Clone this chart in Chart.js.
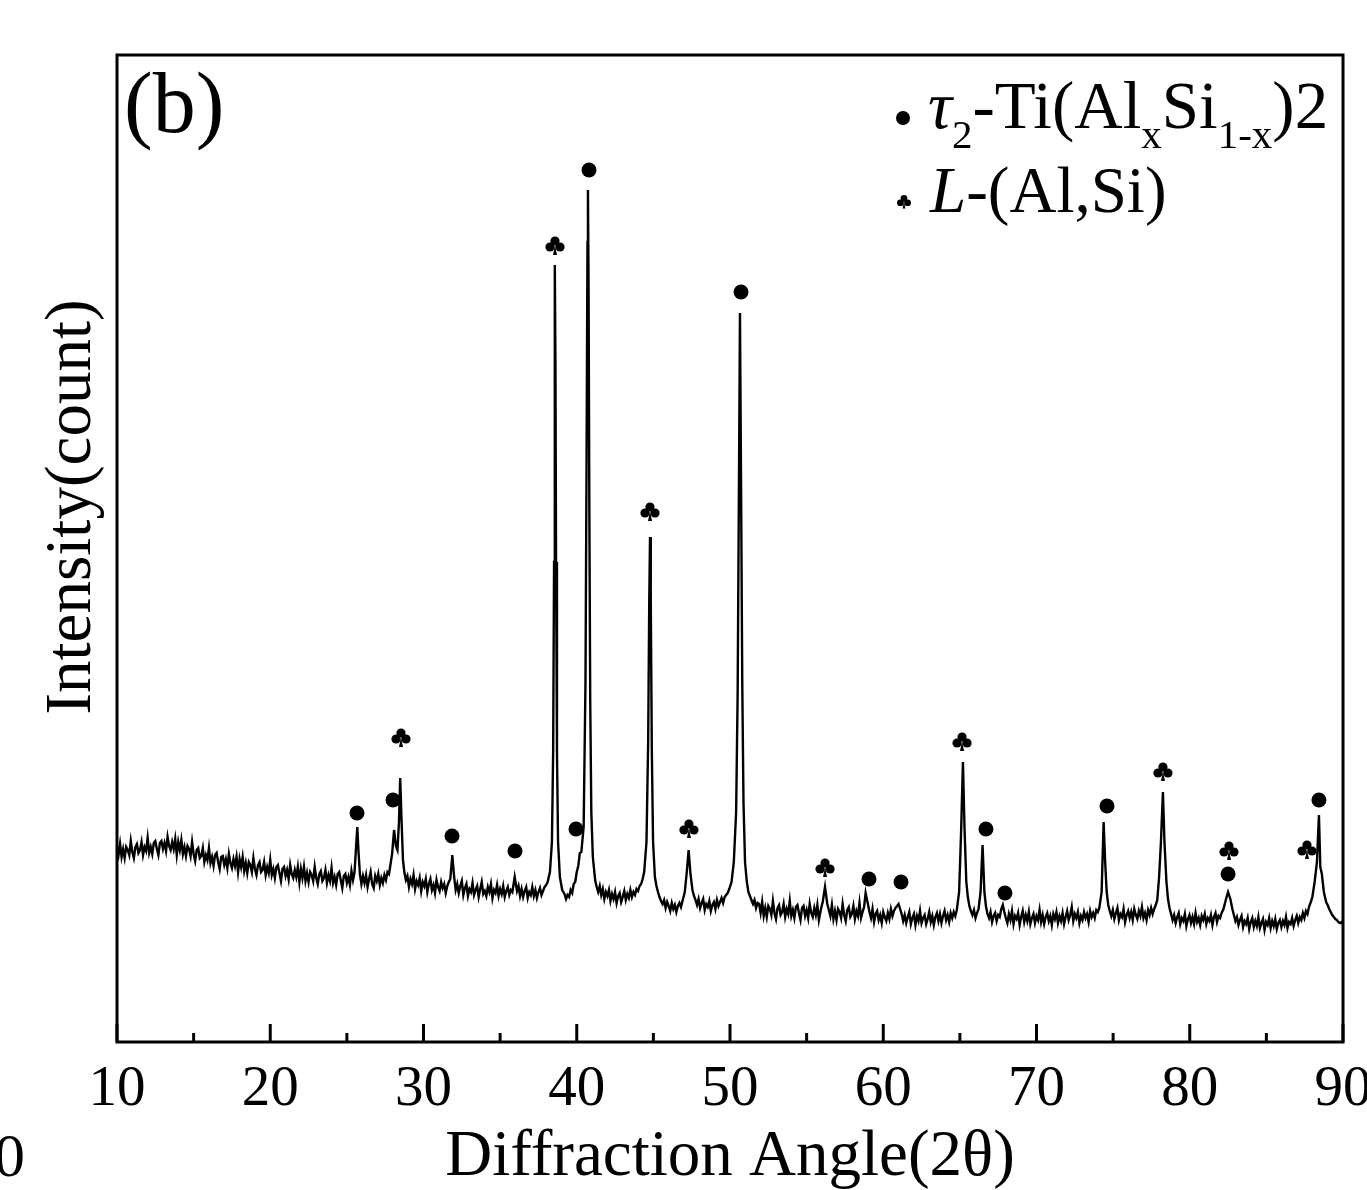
<!DOCTYPE html>
<html><head><meta charset="utf-8">
<script src="https://cdn.jsdelivr.net/npm/chart.js@4.4.1/dist/chart.umd.min.js"></script>
<style>html,body{margin:0;padding:0;background:#fff;}canvas{display:block;}</style>
</head><body>
<canvas id="c" width="1367" height="1190"></canvas>
<script>
// ---------- data ----------
const xTicks = [10, 20, 30, 40, 50, 60, 70, 80, 90];
const xMinorTicks = [15, 25, 35, 45, 55, 65, 75, 85];
const xTitle = 'Diffraction Angle(2θ)';
const yTitle = 'Intensity(count)';
const panelLabel = '(b)';
// [2θ, intensity]
const pattern = [
[10.0,195],[10.1,187],[10.2,198],[10.3,185],[10.4,193],[10.5,184],[10.6,195],[10.7,192],[10.8,187],[10.9,201],
[11.0,190],[11.1,184],[11.2,195],[11.3,198],[11.4,189],[11.5,192],[11.6,200],[11.7,187],[11.8,195],[11.9,191],
[12.0,204],[12.1,189],[12.2,195],[12.3,188],[12.4,199],[12.5,201],[12.6,193],[12.7,187],[12.8,199],[12.9,201],
[13.0,193],[13.1,199],[13.2,191],[13.3,205],[13.4,196],[13.5,192],[13.6,200],[13.7,193],[13.8,203],[13.9,187],
[14.0,200],[14.1,192],[14.2,202],[14.3,188],[14.4,195],[14.5,186],[14.6,196],[14.7,193],[14.8,186],[14.9,200],
[15.0,188],[15.1,181],[15.2,192],[15.3,194],[15.4,184],[15.5,186],[15.6,194],[15.7,180],[15.8,187],[15.9,182],
[16.0,194],[16.1,179],[16.2,185],[16.3,176],[16.4,187],[16.5,189],[16.6,180],[16.7,173],[16.8,185],[16.9,186],
[17.0,177],[17.1,183],[17.2,174],[17.3,188],[17.4,179],[17.5,174],[17.6,183],[17.7,176],[17.8,185],[17.9,170],
[18.0,183],[18.1,175],[18.2,185],[18.3,171],[18.4,179],[18.5,169],[18.6,180],[18.7,177],[18.8,170],[18.9,184],
[19.0,173],[19.1,167],[19.2,177],[19.3,180],[19.4,170],[19.5,172],[19.6,180],[19.7,167],[19.8,175],[19.9,169],
[20.0,182],[20.1,167],[20.2,173],[20.3,164],[20.4,175],[20.5,177],[20.6,169],[20.7,161],[20.8,173],[20.9,175],
[21.0,166],[21.1,172],[21.2,163],[21.3,177],[21.4,168],[21.5,164],[21.6,172],[21.7,165],[21.8,175],[21.9,160],
[22.0,173],[22.1,164],[22.2,175],[22.3,161],[22.4,169],[22.5,160],[22.6,170],[22.7,167],[22.8,161],[22.9,175],
[23.0,164],[23.1,158],[23.2,168],[23.3,171],[23.4,161],[23.5,164],[23.6,172],[23.7,159],[23.8,167],[23.9,161],
[24.0,174],[24.1,159],[24.2,165],[24.3,157],[24.4,168],[24.5,170],[24.6,162],[24.7,154],[24.8,166],[24.9,168],
[25.0,159],[25.1,165],[25.2,157],[25.3,171],[25.4,162],[25.5,170],[25.6,195],[25.68,215],[25.76,190],[25.85,168],
[25.95,158],[26.05,166],[26.15,159],[26.25,167],[26.35,155],[26.45,163],[26.55,170],[26.65,158],[26.75,154],[26.85,166],
[26.95,161],[27.05,168],[27.15,157],[27.25,164],[27.35,159],[27.45,167],[27.55,162],[27.65,170],[27.75,168],[27.85,178],
[27.95,188],[28.08,212],[28.2,196],[28.3,192],[28.4,220],[28.48,264],[28.56,225],[28.66,182],[28.75,170],[28.85,162],
[28.95,166],[29.05,155],[29.15,163],[29.25,158],[29.35,167],[29.45,153],[29.55,161],[29.65,157],[29.75,164],[29.85,151],
[29.95,160],[30.05,156],[30.15,163],[30.25,150],[30.35,158],[30.45,163],[30.55,152],[30.65,157],[30.75,149],[30.85,162],
[30.95,155],[31.05,151],[31.15,160],[31.25,154],[31.35,158],[31.45,149],[31.55,156],[31.65,160],[31.75,163],[31.88,187],
[32.0,165],[32.1,152],[32.2,158],[32.3,149],[32.4,156],[32.5,161],[32.6,147],[32.7,154],[32.8,158],[32.9,146],
[33.0,153],[33.1,150],[33.2,159],[33.3,147],[33.4,152],[33.5,156],[33.6,145],[33.7,153],[33.8,160],[33.9,148],
[34.0,151],[34.1,146],[34.2,155],[34.3,150],[34.4,158],[34.5,144],[34.6,152],[34.7,149],[34.8,157],[34.9,146],
[35.0,153],[35.1,148],[35.2,156],[35.3,145],[35.4,151],[35.5,155],[35.6,147],[35.7,152],[35.8,150],[35.95,165],
[36.1,151],[36.2,156],[36.3,146],[36.4,153],[36.5,145],[36.6,151],[36.7,155],[36.8,144],[36.9,150],[37.0,147],
[37.1,155],[37.2,146],[37.3,152],[37.4,144],[37.5,150],[37.6,154],[37.7,147],[37.8,151],[37.9,155],[38.0,157],
[38.1,160],[38.25,170],[38.38,200],[38.46,290],[38.52,480],[38.555,680],[38.58,777],[38.61,680],[38.65,480],[38.71,290],
[38.78,200],[38.9,165],[39.05,152],[39.2,148],[39.3,143],[39.4,147],[39.5,145],[39.6,152],[39.7,149],[39.8,158],
[39.9,160],[40.0,170],[40.1,176],[40.2,189],[40.3,190],[40.45,215],[40.57,360],[40.64,580],[40.7,800],[40.73,852],
[40.77,760],[40.82,540],[40.88,340],[40.95,230],[41.05,185],[41.2,162],[41.3,155],[41.4,150],[41.5,156],[41.6,147],
[41.7,153],[41.8,143],[41.9,150],[42.0,146],[42.1,152],[42.2,141],[42.3,148],[42.4,143],[42.5,150],[42.6,139],
[42.7,146],[42.8,149],[42.9,140],[43.0,145],[43.1,151],[43.2,142],[43.3,148],[43.4,144],[43.5,152],[43.6,145],
[43.7,150],[43.8,147],[43.9,153],[44.0,151],[44.1,156],[44.2,158],[44.3,163],[44.4,170],[44.55,200],[44.66,300],
[44.73,440],[44.78,505],[44.83,440],[44.9,290],[44.98,200],[45.1,165],[45.2,156],[45.3,150],[45.4,145],[45.5,141],
[45.6,138],[45.7,142],[45.8,134],[45.9,140],[46.0,136],[46.1,131],[46.2,139],[46.3,133],[46.4,137],[46.5,130],
[46.6,136],[46.7,139],[46.8,135],[46.9,141],[47.05,150],[47.18,170],[47.3,192],[47.42,168],[47.55,152],[47.65,146],
[47.75,142],[47.85,137],[47.95,143],[48.05,134],[48.15,139],[48.25,143],[48.35,132],[48.45,138],[48.55,135],[48.65,141],
[48.75,131],[48.85,137],[48.95,140],[49.05,133],[49.15,142],[49.25,136],[49.35,140],[49.45,144],[49.55,139],[49.65,145],
[49.75,147],[49.85,149],[49.95,153],[50.1,160],[50.25,180],[50.4,230],[50.5,350],[50.58,550],[50.65,729],[50.72,560],
[50.8,360],[50.88,240],[50.98,180],[51.1,160],[51.2,150],[51.3,146],[51.4,142],[51.5,138],[51.6,142],[51.7,134],
[51.8,139],[51.9,138],[52.0,129],[52.1,140],[52.2,126],[52.3,134],[52.4,125],[52.5,136],[52.6,133],[52.7,127],
[52.8,141],[52.9,129],[53.0,123],[53.1,134],[53.2,137],[53.3,127],[53.4,130],[53.5,138],[53.6,125],[53.7,133],
[53.8,128],[53.9,141],[54.0,126],[54.1,132],[54.2,124],[54.3,135],[54.4,137],[54.5,129],[54.6,122],[54.7,134],
[54.8,136],[54.9,126],[55.0,132],[55.1,124],[55.2,138],[55.3,129],[55.4,125],[55.5,134],[55.6,127],[55.7,137],
[55.8,122],[55.95,134],[56.05,140],[56.2,155],[56.35,138],[56.45,132],[56.55,126],[56.65,137],[56.75,123],[56.85,131],
[56.95,122],[57.05,133],[57.15,130],[57.25,124],[57.35,138],[57.45,127],[57.55,121],[57.65,132],[57.75,135],[57.85,125],
[57.95,128],[58.05,136],[58.15,123],[58.25,131],[58.35,126],[58.45,139],[58.55,124],[58.65,130],[58.75,135],[58.85,149],
[59.0,138],[59.1,130],[59.2,124],[59.3,133],[59.4,120],[59.5,128],[59.6,131],[59.7,122],[59.8,127],[59.9,119],
[60.0,130],[60.1,125],[60.2,121],[60.3,129],[60.4,123],[60.5,133],[60.6,126],[60.7,131],[60.8,134],[60.9,136],
[61.0,138],[61.1,133],[61.2,128],[61.3,121],[61.4,127],[61.5,119],[61.6,125],[61.7,130],[61.8,118],[61.9,124],
[62.0,128],[62.1,117],[62.2,126],[62.3,121],[62.4,131],[62.5,119],[62.6,124],[62.7,127],[62.8,118],[62.9,123],
[63.0,130],[63.1,120],[63.2,126],[63.3,117],[63.4,125],[63.5,129],[63.6,121],[63.7,128],[63.8,119],[63.9,126],
[64.0,131],[64.1,122],[64.2,127],[64.3,120],[64.4,129],[64.5,124],[64.6,130],[64.7,126],[64.8,132],[64.95,150],
[65.08,210],[65.2,280],[65.3,215],[65.42,160],[65.52,145],[65.62,136],[65.72,131],[65.82,127],[65.92,132],[66.02,124],
[66.12,129],[66.22,133],[66.35,150],[66.48,197],[66.6,150],[66.7,136],[66.8,128],[66.9,124],[67.0,130],[67.1,120],
[67.2,126],[67.3,129],[67.4,121],[67.5,127],[67.6,125],[67.7,133],[67.8,137],[67.9,130],[68.0,124],[68.1,119],
[68.2,128],[68.3,122],[68.4,131],[68.5,118],[68.6,126],[68.7,123],[68.8,129],[68.9,117],[69.0,125],[69.1,131],
[69.2,120],[69.3,127],[69.4,121],[69.5,130],[69.6,118],[69.7,124],[69.8,128],[69.9,119],[70.0,126],[70.1,122],
[70.2,132],[70.3,120],[70.4,127],[70.5,118],[70.6,125],[70.7,129],[70.8,121],[70.9,126],[71.0,117],[71.1,128],
[71.2,123],[71.3,130],[71.4,119],[71.5,126],[71.6,121],[71.7,129],[71.8,118],[71.9,125],[72.0,131],[72.1,122],
[72.2,127],[72.3,135],[72.4,121],[72.5,128],[72.6,124],[72.7,130],[72.8,119],[72.9,126],[73.0,122],[73.1,130],
[73.2,124],[73.3,128],[73.4,120],[73.5,131],[73.6,125],[73.7,129],[73.8,124],[73.9,132],[74.0,130],[74.1,134],
[74.25,150],[74.38,220],[74.48,180],[74.58,150],[74.68,137],[74.78,131],[74.88,126],[74.98,132],[75.08,123],[75.18,129],
[75.28,134],[75.38,122],[75.48,128],[75.58,125],[75.68,133],[75.78,120],[75.88,127],[75.98,131],[76.08,124],[76.18,130],
[76.28,122],[76.38,133],[76.48,127],[76.58,123],[76.68,131],[76.78,126],[76.88,135],[76.98,124],[77.08,129],[77.18,122],
[77.28,132],[77.38,127],[77.48,134],[77.58,128],[77.68,133],[77.78,137],[77.88,142],[78.0,165],[78.12,200],[78.25,250],
[78.35,200],[78.48,160],[78.58,143],[78.68,134],[78.78,128],[78.88,122],[78.98,127],[79.08,119],[79.18,125],[79.28,129],
[79.38,118],[79.48,124],[79.58,121],[79.68,128],[79.78,116],[79.88,123],[79.98,127],[80.08,119],[80.18,125],[80.28,118],
[80.38,129],[80.48,120],[80.58,124],[80.68,117],[80.78,126],[80.88,122],[80.98,128],[81.08,118],[81.18,124],[81.28,121],
[81.38,127],[81.48,117],[81.58,125],[81.68,129],[81.78,120],[81.88,126],[81.98,124],[82.08,129],[82.2,133],[82.35,142],
[82.5,150],[82.65,143],[82.78,133],[82.88,127],[82.98,121],[83.08,125],[83.18,117],[83.28,122],[83.38,126],[83.48,115],
[83.58,121],[83.68,118],[83.78,124],[83.88,113],[83.98,120],[84.08,124],[84.18,115],[84.28,121],[84.38,116],[84.48,125],
[84.58,114],[84.68,119],[84.78,123],[84.88,112],[84.98,120],[85.08,117],[85.18,124],[85.28,114],[85.38,121],[85.48,116],
[85.58,123],[85.68,113],[85.78,119],[85.88,122],[85.98,115],[86.08,121],[86.18,117],[86.28,125],[86.38,114],[86.48,120],
[86.58,118],[86.68,124],[86.78,116],[86.88,122],[86.98,126],[87.08,119],[87.18,125],[87.28,122],[87.38,129],[87.48,124],
[87.58,131],[87.68,128],[87.78,135],[87.9,140],[88.0,145],[88.15,160],[88.3,180],[88.43,227],[88.52,175],[88.62,168],
[88.75,150],[88.9,140],[89.0,137],[89.1,133],[89.2,130],[89.3,127],[89.4,125],[89.5,123],[89.6,122],[89.7,120],
[89.8,119],[89.9,120],[90.0,118]
];
// phase markers [2θ, marker height]
const tau2Marks = [[25.66,229],[28.01,242],[31.86,206],[35.97,191],[39.95,213],[40.8,872],[50.72,750],
  [59.07,163],[61.16,160],[66.7,213],[67.94,149],[74.6,236],[82.5,168],[88.43,242]];
const lMarks = [[28.53,304],[38.58,796],[44.78,530],[47.32,213],[56.2,174],[65.14,300],[78.25,270],[82.56,191],[87.65,192]];

// ---------- rendering ----------
const SERIF = '"Liberation Serif", "Times New Roman", serif';

function makeClub(size) {
  const c = document.createElement('canvas');
  c.width = size; c.height = size;
  const g = c.getContext('2d');
  const s = size / 22;
  g.fillStyle = '#000';
  const r = 4.6 * s;
  g.beginPath(); g.arc(11 * s, 6 * s, r, 0, Math.PI * 2); g.fill();
  g.beginPath(); g.arc(6 * s, 12 * s, r, 0, Math.PI * 2); g.fill();
  g.beginPath(); g.arc(16 * s, 12 * s, r, 0, Math.PI * 2); g.fill();
  g.beginPath(); g.moveTo(11 * s, 10 * s); g.lineTo(13 * s, 20 * s); g.lineTo(9 * s, 20 * s); g.closePath(); g.fill();
  return c;
}
const clubImg = makeClub(22);
const clubSmall = makeClub(16);

function richText(ctx, x, y, parts) {
  for (const p of parts) {
    ctx.font = (p.i ? 'italic ' : '') + p.s + 'px ' + SERIF;
    ctx.fillText(p.t, x, y + (p.dy || 0));
    x += ctx.measureText(p.t).width;
  }
  return x;
}

const decor = {
  id: 'decor',
  afterDraw(chart) {
    const { ctx, chartArea: a, scales: { x } } = chart;
    ctx.save();
    ctx.strokeStyle = '#000';
    ctx.fillStyle = '#000';
    ctx.lineWidth = 3;
    ctx.strokeRect(a.left, a.top, a.right - a.left, a.bottom - a.top);
    for (const v of xTicks) {
      const px = x.getPixelForValue(v);
      ctx.beginPath(); ctx.moveTo(px, a.bottom); ctx.lineTo(px, a.bottom - 18); ctx.stroke();
    }
    for (const v of xMinorTicks) {
      const px = x.getPixelForValue(v);
      ctx.beginPath(); ctx.moveTo(px, a.bottom); ctx.lineTo(px, a.bottom - 9); ctx.stroke();
    }
    ctx.textAlign = 'left';
    ctx.textBaseline = 'alphabetic';
    ctx.font = '86px ' + SERIF;
    ctx.fillText(panelLabel, 124, 132);
    ctx.beginPath(); ctx.arc(903, 118, 7, 0, Math.PI * 2); ctx.fill();
    ctx.drawImage(clubSmall, 896, 194);
    richText(ctx, 928, 128, [
      { t: 'τ', s: 67, i: true }, { t: '2', s: 41, dy: 20 }, { t: '-Ti(Al', s: 67 },
      { t: 'x', s: 41, dy: 20 }, { t: 'Si', s: 67 }, { t: '1-x', s: 41, dy: 20 }, { t: ')2', s: 67 }
    ]);
    richText(ctx, 930, 212, [{ t: 'L', s: 65, i: true }, { t: '-(Al,Si)', s: 65 }]);
    ctx.save();
    ctx.translate(90, 507);
    ctx.rotate(-Math.PI / 2);
    ctx.textAlign = 'center';
    ctx.font = '65px ' + SERIF;
    ctx.fillText(yTitle, 0, 0);
    ctx.restore();
    ctx.font = '62px ' + SERIF;
    ctx.textAlign = 'left';
    ctx.fillText('0', -6, 1176);
    ctx.restore();
  }
};

new Chart(document.getElementById('c'), {
  type: 'scatter',
  data: {
    datasets: [
      { label: 'XRD', data: pattern.map(p => ({ x: p[0], y: p[1] })), showLine: true,
        borderColor: '#000', borderWidth: 2.4, pointRadius: 0, tension: 0 },
      { label: 'τ2', data: tau2Marks.map(p => ({ x: p[0], y: p[1] })), showLine: false,
        pointStyle: 'circle', pointRadius: 7.5, backgroundColor: '#000', borderWidth: 0 },
      { label: 'L', data: lMarks.map(p => ({ x: p[0], y: p[1] })), showLine: false,
        pointStyle: clubImg, pointRadius: 11 }
    ]
  },
  options: {
    responsive: false, animation: false, devicePixelRatio: 1,
    layout: { padding: { left: 0, right: 24, top: 55, bottom: 0 } },
    plugins: { legend: { display: false }, tooltip: { enabled: false } },
    scales: {
      x: {
        type: 'linear', min: 10, max: 90,
        afterBuildTicks: s => { s.ticks = xTicks.map(v => ({ value: v })); },
        ticks: { color: '#000', padding: 20, font: { family: SERIF, size: 57, lineHeight: 1 } },
        grid: { display: false, drawTicks: false }, border: { display: false },
        title: { display: true, text: xTitle, color: '#000', padding: 0,
          font: { family: SERIF, size: 65, lineHeight: 1 } },
        afterFit: s => { s.height = 148; s.paddingLeft = 0; s.paddingRight = 0; }
      },
      y: {
        min: 0, max: 987,
        ticks: { display: false }, grid: { display: false, drawTicks: false }, border: { display: false },
        afterFit: s => { s.width = 117; }
      }
    }
  },
  plugins: [decor]
});
</script>
</body></html>
